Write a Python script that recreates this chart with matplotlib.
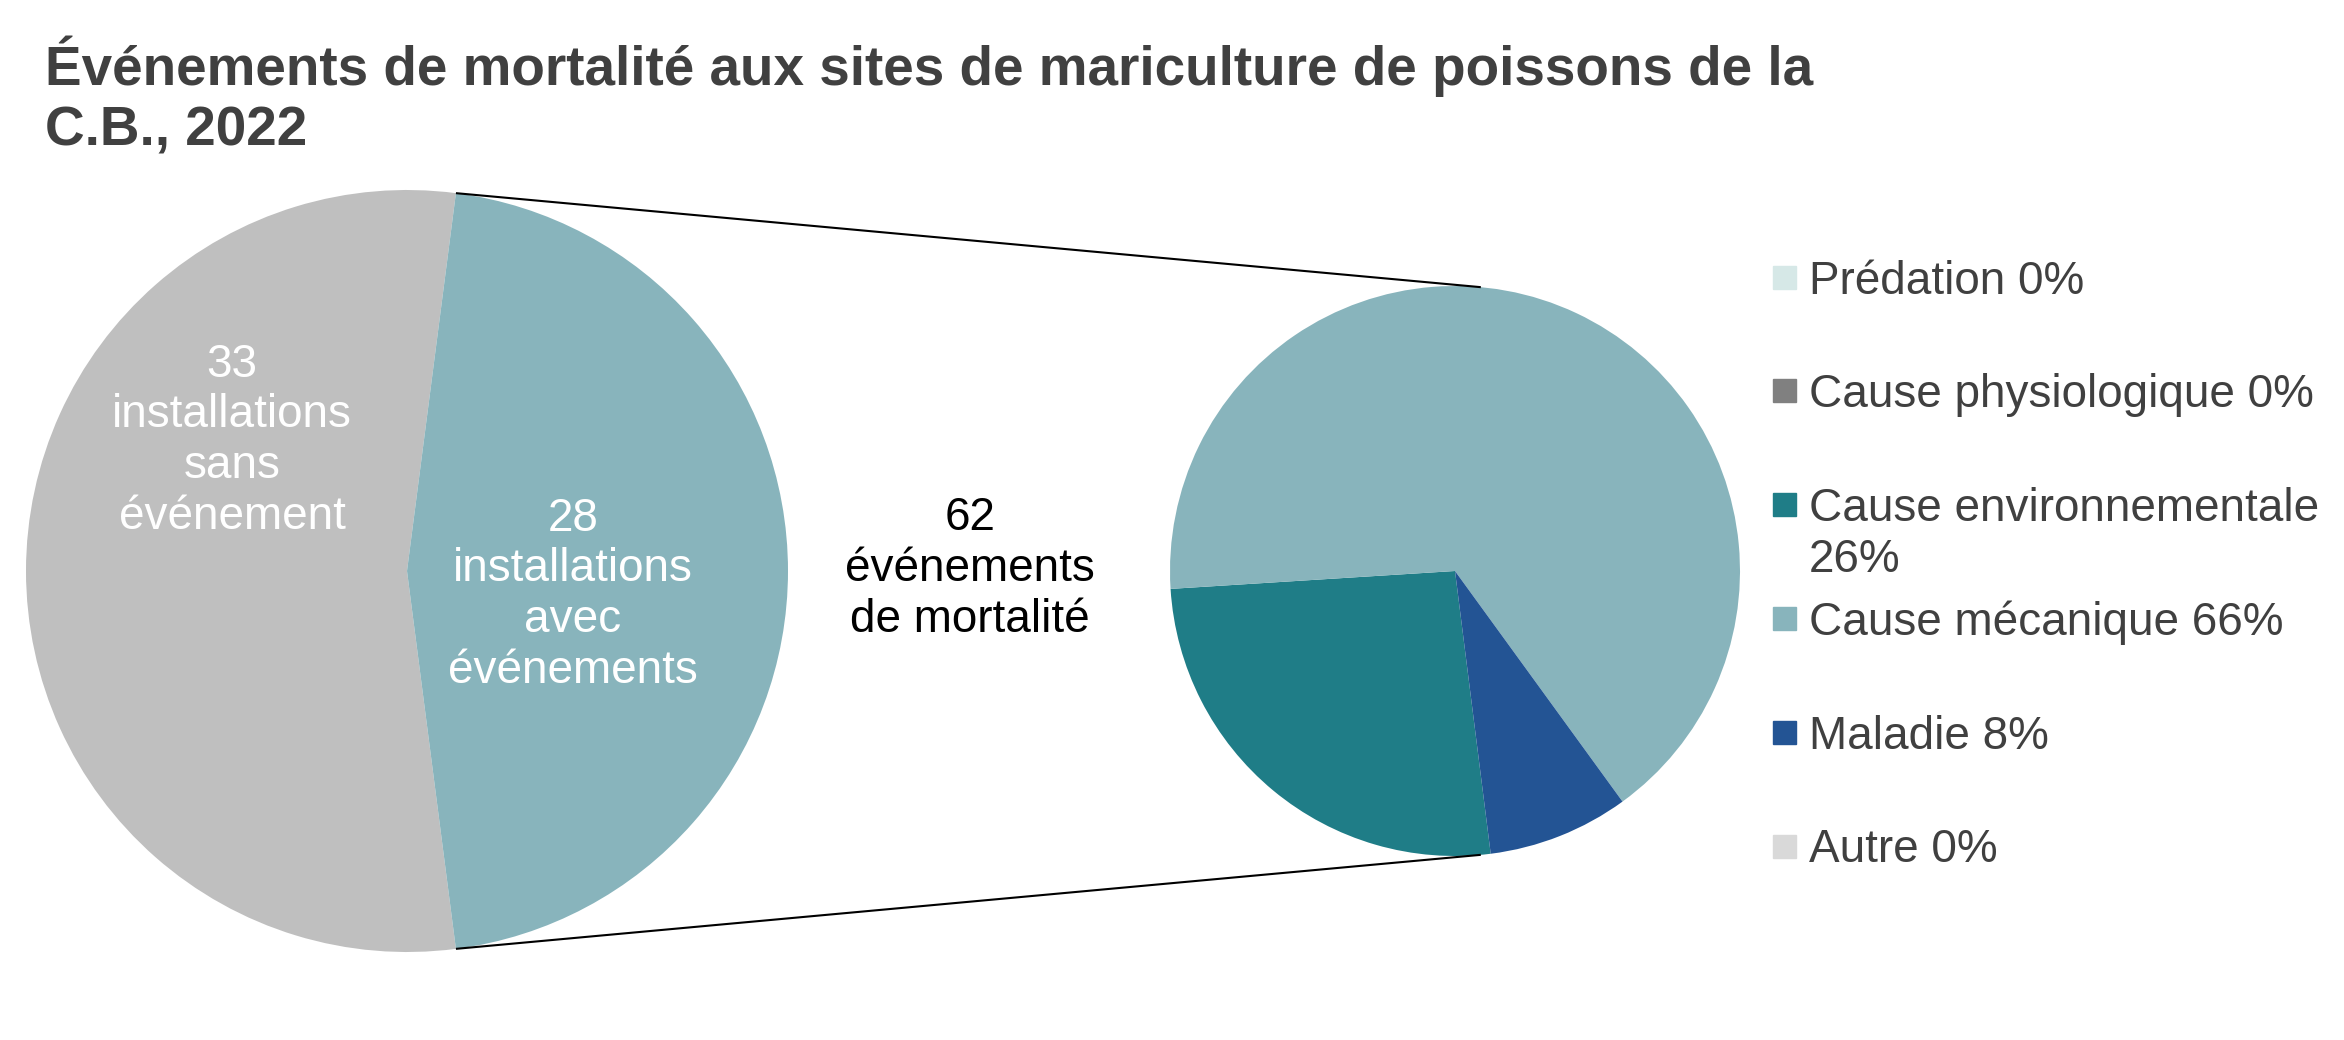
import numpy as np
import matplotlib.pyplot as plt
from matplotlib.patches import Rectangle

plt.rcParams['font.family'] = ['Liberation Sans', 'DejaVu Sans']

# %% Donnees
titre = "Événements de mortalité aux sites de mariculture de poissons de la\nC.B., 2022"
installations = ["installations\nsans\névénement", "installations\navec\névénements"]
nb_installations = [33, 28]
nb_evenements = 62
causes = ["Prédation", "Cause physiologique", "Cause environnementale\n", "Cause mécanique",
          "Maladie", "Autre"]
pct_causes = [0, 0, 26, 66, 8, 0]

couleurs_inst = ["#BFBFBF", "#88B4BC"]
couleurs_causes = ["#D6E8E7", "#808080", "#1F7D87", "#88B4BC", "#235494", "#D9D9D9"]
gris_texte = "#404040"

# %% Mise en page (pixels)
W, H = 2344, 1040
c1, r1 = (407, H - 571), 381
c2, r2 = (1455, H - 571), 285
interligne = 51  # px, pour placer la ligne de base du premier rang


def texte(x, y_base1, s, **kw):
    # va='baseline' aligne la derniere ligne -> on decale selon le nombre de lignes
    n = s.count("\n")
    ax.text(x, y_base1 - n * interligne, s, va='baseline', **kw)


fig = plt.figure(figsize=(W / 100, H / 100), dpi=100)
ax = fig.add_axes([0, 0, 1, 1])

# grand camembert: la part "avec evenements" centree a droite
demi = nb_installations[1] / sum(nb_installations) * 180
ax.pie(nb_installations, colors=couleurs_inst, startangle=demi,
       center=c1, radius=r1, frame=False)

# second camembert: repartition des causes, sens horaire
debut = -82.8
ax.pie(pct_causes, colors=couleurs_causes, startangle=debut, counterclock=False,
       center=c2, radius=r2, frame=False)

# lignes de liaison
for s in (1, -1):
    a1 = np.radians(s * demi)
    a2 = np.radians(s * 84.8)
    ax.plot([c1[0] + r1 * np.cos(a1), c2[0] + r2 * np.cos(a2)],
            [c1[1] + r1 * np.sin(a1), c2[1] + r2 * np.sin(a2)],
            color='black', lw=1.5, solid_capstyle='butt')

# etiquettes
fs = 33
texte(232, H - 376, f"{nb_installations[0]}\n{installations[0]}", color='white',
      fontsize=fs, ha='center', multialignment='center')
texte(573, H - 530, f"{nb_installations[1]}\n{installations[1]}", color='white',
      fontsize=fs, ha='center', multialignment='center')
texte(970, H - 530, f"{nb_evenements}\névénements\nde mortalité", color='black',
      fontsize=fs, ha='center', multialignment='center')

# legende
for i, (lab, p, col) in enumerate(zip(causes, pct_causes, couleurs_causes)):
    y = H - (277 + 113.8 * i)
    ax.add_patch(Rectangle((1773, y - 11.5), 23, 23, color=col))
    txt = lab + f"{p}%" if lab.endswith("\n") else f"{lab} {p}%"
    texte(1809, y - 16.5, txt, color=gris_texte, fontsize=fs)

# titre
ax.text(45, H - 145, titre, color=gris_texte, fontsize=39.5, fontweight='bold',
        va='baseline', linespacing=1.2)

ax.set_xlim(0, W)
ax.set_ylim(0, H)
ax.axis('off')

plt.savefig('out.png', dpi=100)
